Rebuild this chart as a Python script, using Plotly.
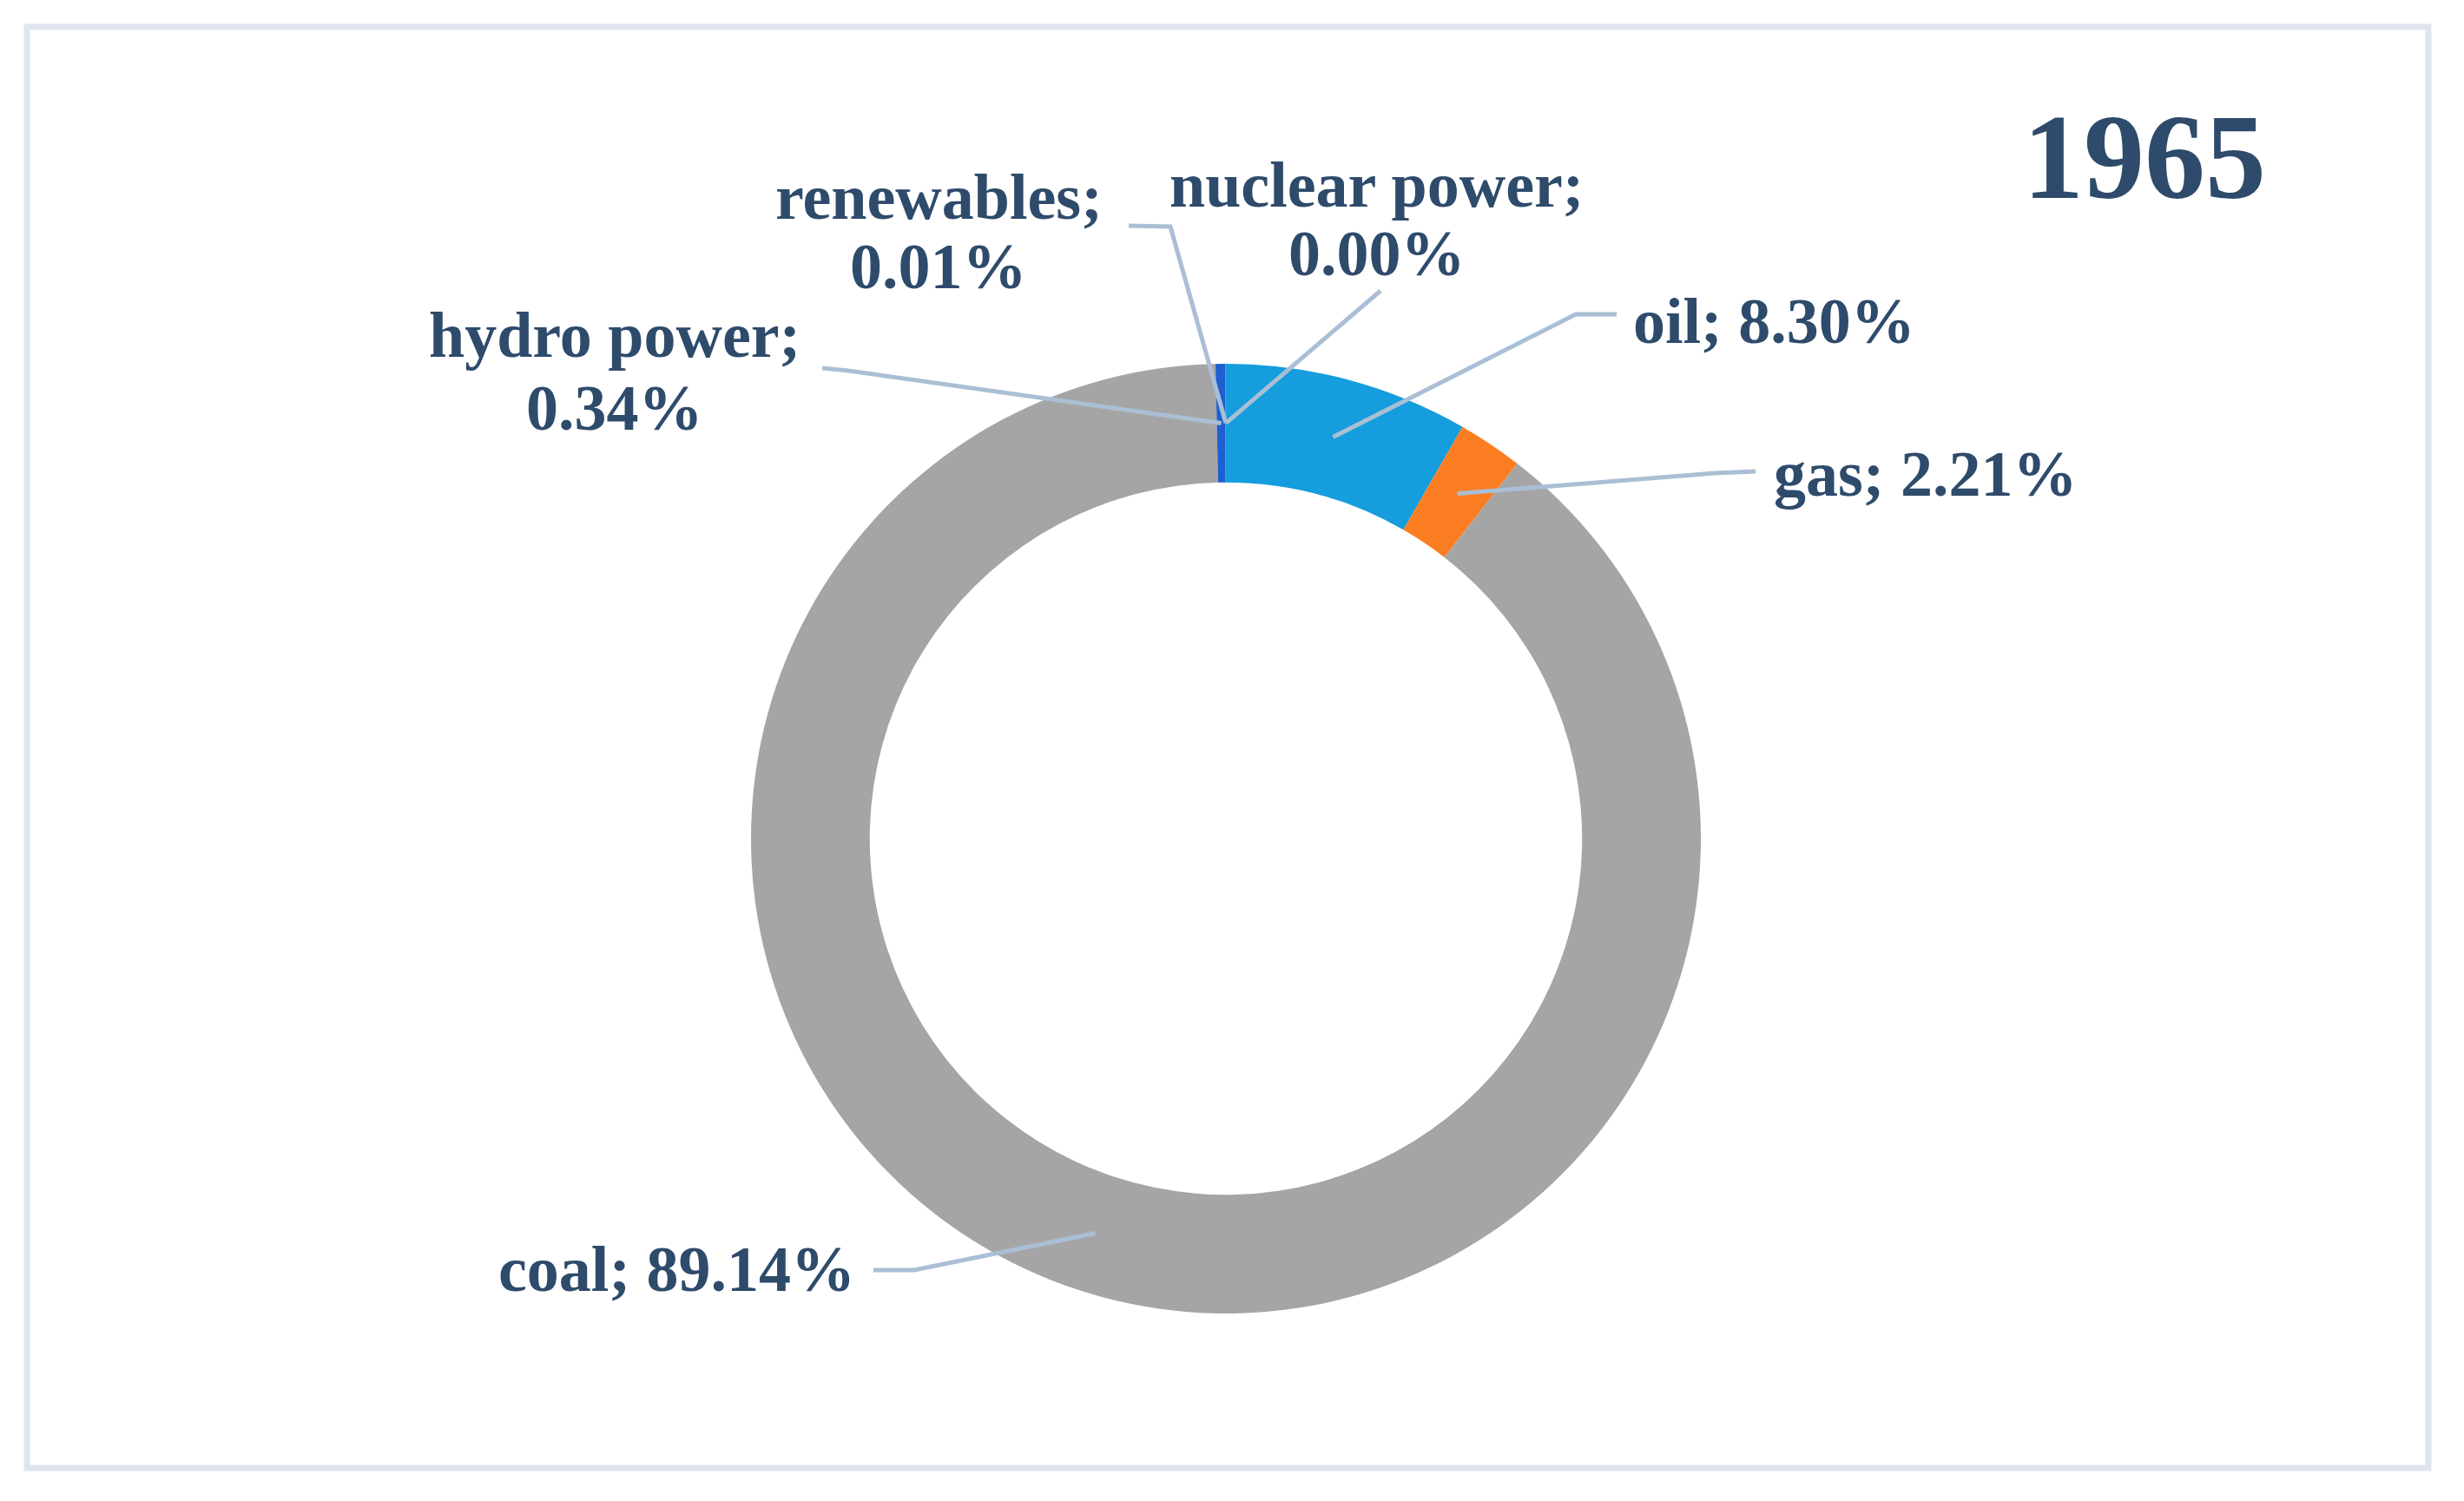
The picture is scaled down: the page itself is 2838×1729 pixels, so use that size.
import math
import plotly.graph_objects as go

# ---------------- data ----------------
categories = ["oil", "gas", "coal", "hydro power", "renewables", "nuclear power"]
values = [8.30, 2.21, 89.14, 0.34, 0.01, 0.00]
title_text = "1965"

# ---------------- styling ----------------
slice_colors = ["#159ddd", "#fb7d22", "#a5a5a5", "#1f5fcf", "#70ad47", "#ffc000"]
TEXT_COLOR = "#2e4b6b"
LEADER_COLOR = "#aabfd5"
FONT = "Liberation Serif"
W, H = 2838, 1729

CX, CY = 1412, 966          # donut centre (px)
R_OUT = 547                 # outer radius (px)
HOLE = 0.75
R_MID = R_OUT * (1 + HOLE) / 2


def px(x):
    return x / W


def py(y):
    return 1 - y / H


fig = go.Figure()
fig.add_trace(go.Pie(
    labels=categories,
    values=values,
    sort=False,
    direction="clockwise",
    rotation=0,
    hole=HOLE,
    textinfo="none",
    hoverinfo="label+percent",
    marker=dict(colors=slice_colors, line=dict(width=0)),
    showlegend=False,
    domain=dict(x=[px(CX - R_OUT), px(CX + R_OUT)],
                y=[py(CY + R_OUT), py(CY - R_OUT)]),
))

# wedge mid-angle points computed from data
total = sum(values)
mid_pts = {}
acc = 0.0
for c, v in zip(categories, values):
    ang = (acc + v / 2) / total * 2 * math.pi
    mid_pts[c] = (CX + R_MID * math.sin(ang), CY - R_MID * math.cos(ang))
    acc += v

# label layout: text line centres and leader start points (px)
label_layout = {
    "renewables": dict(lines=[(1081, 227), (1081, 307)], split=True,
                       leader=[(1300, 260), (1348, 261)]),
    "nuclear power": dict(lines=[(1586, 213), (1586, 292)], split=True,
                          leader=[(1590, 335)]),
    "hydro power": dict(lines=[(708, 386), (708, 470)], split=True,
                        leader=[(947, 424), (977, 427)]),
    "oil": dict(lines=[(2043, 370)], split=False,
                leader=[(1862, 362), (1815, 362)]),
    "gas": dict(lines=[(2217, 546)], split=False,
                leader=[(2022, 543), (1975, 545)]),
    "coal": dict(lines=[(779, 1462)], split=False,
                 leader=[(1006, 1463), (1053, 1463)]),
}

annotations = []
shapes = []
for c, v in zip(categories, values):
    lay = label_layout[c]
    if lay["split"]:
        texts = [f"{c};", f"{v:.2f}%"]
    else:
        texts = [f"{c}; {v:.2f}%"]
    for t, (x, y) in zip(texts, lay["lines"]):
        annotations.append(dict(
            x=px(x), y=py(y), xref="paper", yref="paper",
            text=f"<b>{t}</b>", showarrow=False, xanchor="center", yanchor="middle",
            font=dict(family=FONT, size=74, color=TEXT_COLOR),
        ))
    pts = lay["leader"] + [mid_pts[c]]
    path = "M " + " L ".join(f"{px(x):.5f},{py(y):.5f}" for x, y in pts)
    shapes.append(dict(type="path", path=path, xref="paper", yref="paper",
                       line=dict(color=LEADER_COLOR, width=5)))

# title
annotations.append(dict(
    x=px(2470), y=py(181), xref="paper", yref="paper", text=f"<b>{title_text}</b>",
    showarrow=False, xanchor="center", yanchor="middle",
    font=dict(family=FONT, size=140, color=TEXT_COLOR),
))

# border
shapes.append(dict(type="rect", xref="paper", yref="paper",
                   x0=px(31), x1=px(2797), y0=py(1691), y1=py(31),
                   line=dict(color="#dfe5ed", width=7), layer="below"))

fig.update_layout(
    width=W, height=H,
    margin=dict(l=0, r=0, t=0, b=0),
    paper_bgcolor="white", plot_bgcolor="white",
    annotations=annotations, shapes=shapes,
)

fig.write_html("out.html",
               config={"displayModeBar": False},
               post_script="document.body.style.margin='0';document.body.style.overflow='hidden';")
